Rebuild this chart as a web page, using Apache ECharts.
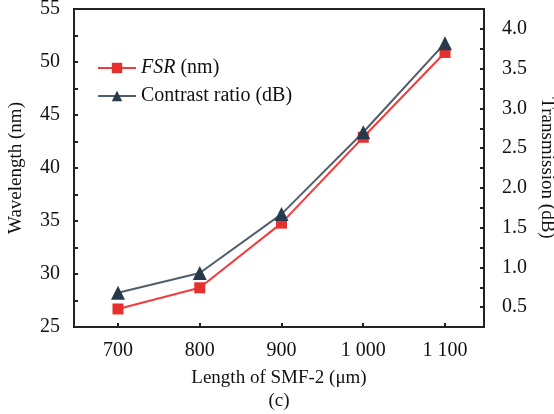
<!DOCTYPE html>
<html>
<head>
<meta charset="utf-8">
<script src="https://cdn.jsdelivr.net/npm/echarts@6/dist/echarts.min.js"></script>
<style>html,body{margin:0;padding:0;background:#fff}#c{width:554px;height:414px}</style>
</head>
<body>
<div id="c"></div>
<script>
const lengths = [700, 800, 900, 1000, 1100];
const fsr = [26.7, 28.7, 34.8, 42.9, 50.9];
const contrast = [0.68, 0.93, 1.67, 2.70, 3.82];
const xTicks = [700, 800, 900, 1000, 1100];
const leftRange = [25, 55];
const rightRange = [0.25, 4.25];

const F = 'Liberation Serif';
const chart = echarts.init(document.getElementById('c'), null, {renderer: 'canvas'});
chart.setOption({
  animation: false,
  grid: {left: 74, right: 70, top: 9, bottom: 87, show: true, borderColor: '#222', borderWidth: 2,
    backgroundColor: 'transparent', containLabel: false, outerBoundsMode: 'none'},
  legend: {
    orient: 'vertical', left: 92, top: 53, itemWidth: 38, itemHeight: 13, itemGap: 8,
    textStyle: {fontFamily: F, fontSize: 20, color: '#111', rich: {i: {fontFamily: F, fontSize: 20, fontStyle: 'italic', color: '#111'}}},
    formatter: n => n === 'FSR (nm)' ? '{i|FSR} (nm)' : n,
    data: ['FSR (nm)', 'Contrast ratio (dB)']
  },
  xAxis: {
    type: 'value', min: 646.2, max: 1147.7,
    name: 'Length of SMF-2 (\u03bcm)\n(c)', nameLocation: 'middle', nameGap: 40,
    nameTextStyle: {fontFamily: F, fontSize: 19, color: '#111', lineHeight: 23},
    axisLine: {show: true, lineStyle: {color: '#222', width: 2}},
    axisTick: {show: true, inside: true, length: 4, lineStyle: {color: '#222', width: 2}, customValues: xTicks},
    axisLabel: {fontFamily: F, fontSize: 20, color: '#111', margin: 14, customValues: xTicks,
      formatter: v => v >= 1000 ? String(v).replace(/^(\d)(\d{3})$/, '$1 $2') : String(v)},
    splitLine: {show: false}
  },
  yAxis: [{
    type: 'value', min: leftRange[0], max: leftRange[1], interval: 2.5, position: 'left',
    name: 'Wavelength (nm)', nameLocation: 'middle', nameGap: 48,
    nameTextStyle: {fontFamily: F, fontSize: 19, color: '#111'},
    axisLine: {show: true, lineStyle: {color: '#222', width: 2}},
    axisTick: {show: true, inside: true, length: 4, lineStyle: {color: '#222', width: 2}},
    axisLabel: {fontFamily: F, fontSize: 20, color: '#111', margin: 14,
      formatter: v => (Math.abs(v % 5) < 1e-6 ? String(v) : '')},
    splitLine: {show: false}
  }, {
    type: 'value', min: rightRange[0], max: rightRange[1], interval: 0.25, position: 'right',
    name: 'Transmission (dB)', nameLocation: 'middle', nameGap: 52, nameRotate: -90,
    nameTextStyle: {fontFamily: F, fontSize: 19, color: '#111'},
    axisLine: {show: true, lineStyle: {color: '#222', width: 2}},
    axisTick: {show: true, inside: true, length: 4, lineStyle: {color: '#222', width: 2}},
    axisLabel: {fontFamily: F, fontSize: 20, color: '#111', margin: 18,
      formatter: v => {
        const t = Math.round(v * 100);
        return (t % 50 === 0 && v >= 0.5 && v <= 4.0) ? v.toFixed(1) : '';
      }},
    splitLine: {show: false}
  }],
  series: [{
    name: 'FSR (nm)', type: 'line', yAxisIndex: 0,
    data: lengths.map((x, i) => [x, fsr[i]]),
    symbol: 'rect', symbolSize: 11,
    lineStyle: {color: '#f23b3b', width: 2},
    itemStyle: {color: '#e5312d'}
  }, {
    name: 'Contrast ratio (dB)', type: 'line', yAxisIndex: 1,
    data: lengths.map((x, i) => [x, contrast[i]]),
    symbol: 'triangle', symbolSize: 14,
    lineStyle: {color: '#4f5e6b', width: 2},
    itemStyle: {color: '#263a4b'}
  }]
});
</script>
</body>
</html>
